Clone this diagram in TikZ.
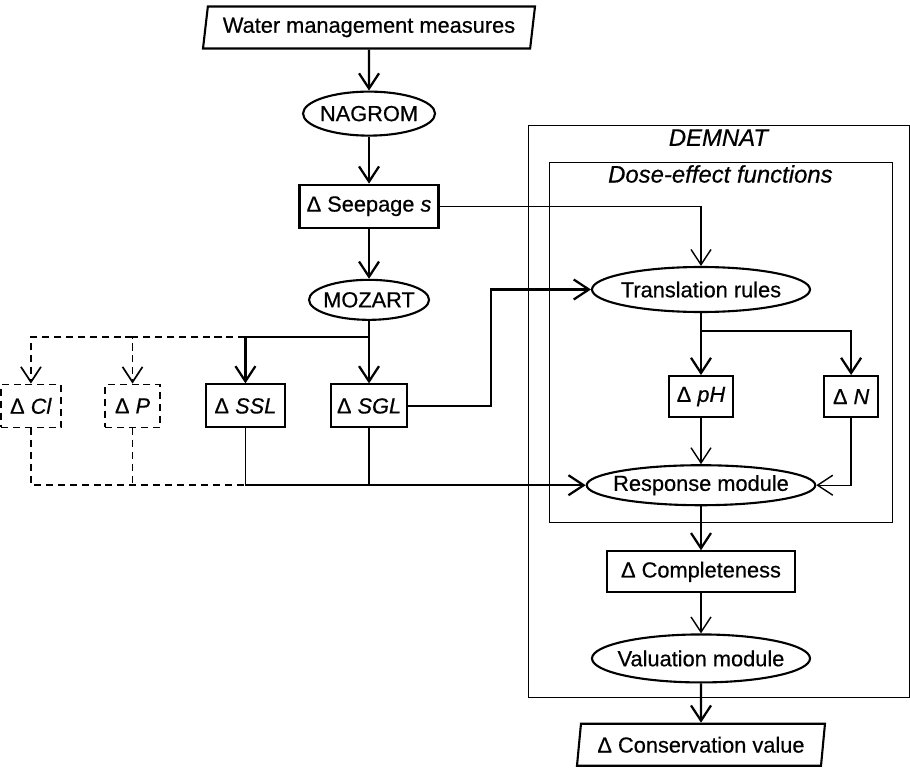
\documentclass[tikz,border=0pt]{standalone}
\usepackage{fontspec}
\setmainfont{Liberation Sans}[UprightFeatures={FakeBold=0.5}, ItalicFeatures={FakeBold=0.5}]
\usepackage{tikz}
\usetikzlibrary{arrows.meta, positioning, shapes.geometric, calc}

\begin{document}
\begin{tikzpicture}[
    every node/.style={font=\fontsize{15.5}{18}\selectfont},
    box/.style={draw, rectangle, line width=1.5pt, minimum height=1.075cm, inner sep=0pt},
    dashbox/.style={box, line width=1.2pt, dash pattern=on 5pt off 3.5pt},
    oval/.style={draw, ellipse, line width=1.5pt, inner xsep=-5pt, inner ysep=0pt},
    io/.style={draw, trapezium, trapezium left angle=76, trapezium right angle=104,
      trapezium stretches body, line width=1.5pt, minimum height=1.05cm, inner sep=0pt},
    arrow/.style={-{Straight Barb[length=3.8mm, width=5mm]}, line width=1.6pt},
    thinarrow/.style={arrow, line width=1pt},
    dasharrow/.style={arrow, line width=1.2pt, dash pattern=on 5pt off 3.5pt},
    dashline/.style={line width=1.2pt, dash pattern=on 5pt off 3.5pt},
    frame/.style={draw, line width=0.7pt},
    frametitle/.style={font=\fontsize{17}{20}\selectfont\itshape},
  ]
  \useasboundingbox (0,0) rectangle (22.75,-19.225);

  % Main chain (left)
  \node[io, minimum width=8.3cm] (WM) at (9.225,-0.6875) {Water management measures};
  \node[oval, minimum width=3.3cm, minimum height=1.1cm] (NAG) [below=1.025cm of WM] {NAGROM};
  \node[box, minimum width=3.475cm] (SEEP) [below=1.175cm of NAG] {Δ Seepage \textit{s}};
  \node[oval, minimum width=3.0cm, minimum height=1.0cm] (MOZ) [below=1.25cm of SEEP] {MOZART};

  % Model output
  \node[box, minimum width=1.9cm] (SGL) [below=1.5625cm of MOZ] {Δ \textit{SGL}};
  \node[box, minimum width=1.975cm] (SSL) [left=1.1cm of SGL] {Δ \textit{SSL}};
  \node[dashbox, minimum width=1.375cm] (P) [left=1.1cm of SSL] {Δ \textit{P}};
  \node[dashbox, minimum width=1.5cm] (CL) [left=1.06cm of P] {Δ \textit{Cl}};

  % DEMNAT (right)
  \node[oval, minimum width=5.45cm, minimum height=1.125cm] (TR) at (17.525,-7.2375) {Translation rules};
  \node[box, minimum width=1.6cm, minimum height=1.025cm] (PH) [below=1.55cm of TR] {Δ \textit{pH}};
  \node[box, minimum width=1.35cm, minimum height=1.025cm] (N) [right=2.225cm of PH] {Δ \textit{N}};
  \node[oval, minimum width=5.45cm, minimum height=1.0cm] (RM) [below=1.15cm of PH] {Response module};
  \node[box, minimum width=4.7cm, minimum height=1.025cm] (COMP) [below=1.1cm of RM] {Δ Completeness};
  \node[oval, minimum width=5.45cm, minimum height=1.2cm] (VM) [below=1.0cm of COMP] {Valuation module};
  \node[io, minimum width=6.2cm] (CV) [below=0.98cm of VM] {Δ Conservation value};

  % Frames
  \draw[frame] (13.2,-3.125) rectangle (22.725,-17.425);
  \draw[frame] (13.725,-4.05) rectangle (22.3,-13.05);
  \node[frametitle] (demnat) at (17.96,-3.44) {DEMNAT};
  \node[frametitle] (dose) at (18.01,-4.35) {Dose-effect functions};

  % Split points
  \coordinate (split) at ($(MOZ.south)+(0,-0.4)$);
  \coordinate (trsplit) at ($(TR.south)+(0,-0.45)$);
  \coordinate (bend) at ($(SGL.east)+(2.075,0)$);

  % Chain arrows
  \draw[arrow] (WM) -- (NAG);
  \draw[arrow] (NAG) -- (SEEP);
  \draw[arrow] (SEEP) -- (MOZ);
  \draw[arrow] (MOZ) -- (SGL);
  \draw[arrow] (split) -| (SSL);
  \draw[dasharrow] (SSL.north |- split) -| (P);
  \draw[dasharrow] (P.north |- split) -| (CL);

  % Into DEMNAT
  \draw[thinarrow] (SEEP) -| (TR);
  \draw[arrow] (SGL) -- (bend) |- (TR);

  % Collecting line
  \draw[dashline] (CL) |- (SSL |- RM);
  \draw[dashline] (P) -- (P |- RM);
  \draw[line width=1pt] (SSL) -- (SSL |- RM);
  \draw[line width=1.6pt] (SGL) -- (SGL |- RM);
  \draw[arrow] (SSL |- RM) -- (RM);

  % Dose-effect functions
  \draw[arrow] (TR) -- (PH);
  \draw[arrow] (trsplit) -| (N);
  \draw[thinarrow] (PH) -- (RM);
  \draw[thinarrow] (N) |- (RM);

  % Valuation
  \draw[arrow] (RM) -- (COMP);
  \draw[thinarrow] (COMP) -- (VM);
  \draw[arrow] (VM) -- (CV);
\end{tikzpicture}
\end{document}
